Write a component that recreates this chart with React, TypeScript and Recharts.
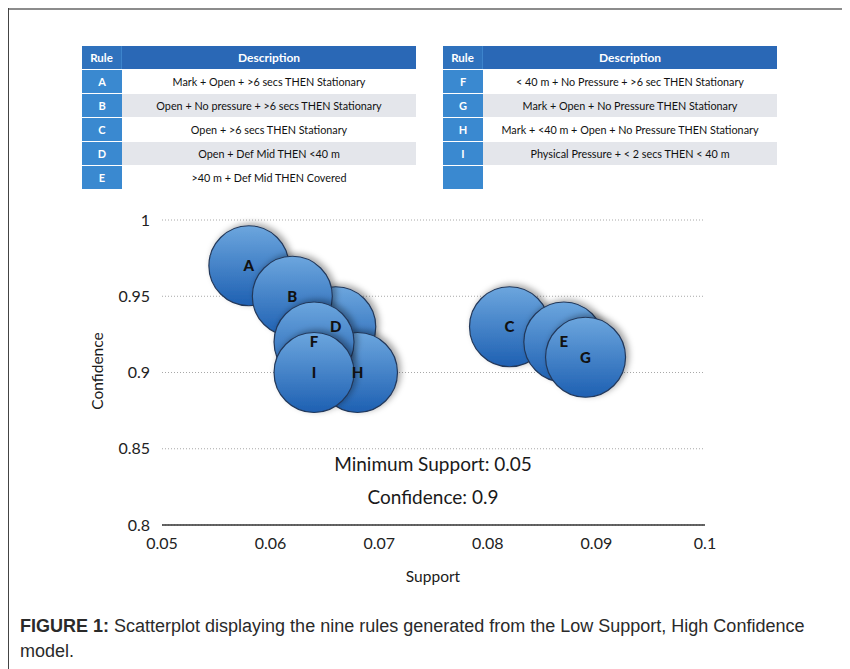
import React from 'react'
import { ScatterChart, Scatter, XAxis, YAxis, CartesianGrid, LabelList } from 'recharts'

// rules in drawing order (later ones sit on top)
const rules = ['A', 'D', 'B', 'H', 'F', 'I', 'C', 'E', 'G']
const support = [0.058, 0.066, 0.062, 0.068, 0.064, 0.064, 0.082, 0.087, 0.089]
const confidence = [0.97, 0.93, 0.95, 0.9, 0.92, 0.9, 0.93, 0.92, 0.91]

const xTicks = [0.05, 0.06, 0.07, 0.08, 0.09, 0.1]
const yTicks = [0.8, 0.85, 0.9, 0.95, 1]

const leftRules = ['A', 'B', 'C', 'D', 'E']
const leftDescriptions = [
  'Mark + Open + >6 secs THEN Stationary',
  'Open + No pressure + >6 secs THEN Stationary',
  'Open + >6 secs THEN Stationary',
  'Open + Def Mid THEN <40 m',
  '>40 m + Def Mid THEN Covered',
]
const rightRules = ['F', 'G', 'H', 'I', '']
const rightDescriptions = [
  '< 40 m + No Pressure + >6 sec THEN Stationary',
  'Mark + Open + No Pressure THEN Stationary',
  'Mark + <40 m + Open + No Pressure THEN Stationary',
  'Physical Pressure + < 2 secs THEN < 40 m',
  '',
]

const FONT = 'Lato, "Open Sans", sans-serif'

const data = rules.map((r, i) => ({ rule: r, support: support[i], confidence: confidence[i] }))

function RuleTable({ left, top, ruleList, descList }: { left: number; top: number; ruleList: string[]; descList: string[] }) {
  const cell: React.CSSProperties = {
    height: 23,
    display: 'flex',
    alignItems: 'center',
    justifyContent: 'center',
    boxSizing: 'border-box',
  }
  return (
    <div style={{ position: 'absolute', left, top, width: 334, fontFamily: FONT }}>
      <div style={{ display: 'flex', borderBottom: '1px solid #fff' }}>
        <div style={{ ...cell, width: 40, background: '#2f72bd', color: '#fff', fontWeight: 700, fontSize: 11.5, borderRight: '1px solid #3d84cc' }}>Rule</div>
        <div style={{ ...cell, flex: 1, background: '#2a68b6', color: '#fff', fontWeight: 700, fontSize: 12 }}>Description</div>
      </div>
      {ruleList.map((r, i) => (
        <div key={i} style={{ display: 'flex', borderBottom: '1px solid #fff' }}>
          <div style={{ ...cell, width: 40, background: '#3a89d0', color: '#fff', fontWeight: 700, fontSize: 11 }}>{r}</div>
          <div style={{ ...cell, flex: 1, background: i % 2 === 1 ? '#e4e6eb' : '#fff', color: '#111', fontSize: 10.8 }}>{descList[i]}</div>
        </div>
      ))}
    </div>
  )
}

const Bubble = (props: any) => {
  const { cx, cy } = props
  return (
    <circle cx={cx} cy={cy} r={40} fill="url(#bubbleFill)" stroke="#22385a" strokeWidth={1.2} filter="url(#bubbleShadow)" />
  )
}

export default function App() {
  return (
    <div style={{ position: 'relative', width: 842, height: 661, overflow: 'hidden', background: '#fff' }}>
      <div style={{ position: 'absolute', left: 0, top: 0, width: 842, height: 2, background: '#8c8c8c' }} />
      <div style={{ position: 'absolute', left: 0, top: 0, width: 1, height: 661, background: '#444' }} />

      <div style={{ position: 'absolute', left: 0, top: 0 }}>
        <ScatterChart width={842} height={600} margin={{ top: 212, right: 145, bottom: 53, left: 94 }}>
          <defs>
            <linearGradient id="bubbleFill" x1="0" y1="0" x2="0" y2="1">
              <stop offset="0%" stopColor="#6ca6de" />
              <stop offset="100%" stopColor="#1e60b2" />
            </linearGradient>
            <filter id="bubbleShadow" x="-30%" y="-30%" width="160%" height="160%">
              <feDropShadow dx="3" dy="-2" stdDeviation="3" floodColor="#000" floodOpacity="0.35" />
            </filter>
          </defs>
          <CartesianGrid vertical={false} stroke="#a8a8a8" strokeDasharray="1 2" />
          <XAxis
            type="number"
            dataKey="support"
            domain={[0.05, 0.1]}
            ticks={xTicks}
            height={30}
            tickLine={false}
            tickMargin={7}
            axisLine={{ stroke: '#333', strokeWidth: 1.5 }}
            tick={{ fontSize: 16, fill: '#222', fontFamily: FONT }}
          />
          <YAxis
            type="number"
            dataKey="confidence"
            domain={[0.8, 1]}
            ticks={yTicks}
            width={60}
            tickLine={false}
            axisLine={false}
            tickMargin={6}
            tick={{ fontSize: 16, fill: '#222', fontFamily: FONT }}
          />
          <Scatter data={data} shape={Bubble} isAnimationActive={false}>
            <LabelList dataKey="rule" position="center" fill="#111" fontWeight={900} fontSize={15} fontFamily={FONT} />
          </Scatter>
        </ScatterChart>
      </div>

      <div style={{ position: 'absolute', left: 225, top: 444, width: 400, textAlign: 'center', fontFamily: FONT, fontSize: 19, color: '#1a1a1a' }}>
        Minimum Support: 0.05
      </div>
      <div style={{ position: 'absolute', left: 225, top: 477, width: 400, textAlign: 'center', fontFamily: FONT, fontSize: 19, color: '#1a1a1a' }}>
        Confidence: 0.9
      </div>
      <div style={{ position: 'absolute', left: 325, top: 559, width: 200, textAlign: 'center', fontFamily: FONT, fontSize: 15.5, color: '#1a1a1a' }}>
        Support
      </div>
      <div style={{ position: 'absolute', left: 39, top: 354, width: 100, textAlign: 'center', fontFamily: FONT, fontSize: 15.5, color: '#1a1a1a', transform: 'rotate(-90deg)' }}>
        Confidence
      </div>

      <RuleTable left={74} top={38} ruleList={leftRules} descList={leftDescriptions} />
      <RuleTable left={435} top={38} ruleList={rightRules} descList={rightDescriptions} />

      <div style={{ position: 'absolute', left: 12, top: 606, fontFamily: '"Liberation Sans", Arial, sans-serif', fontSize: 18, lineHeight: '25px', color: '#2a2a2a' }}>
        <b>FIGURE 1:</b> Scatterplot displaying the nine rules generated from the Low Support, High Confidence
        <br />
        model.
      </div>
    </div>
  )
}
